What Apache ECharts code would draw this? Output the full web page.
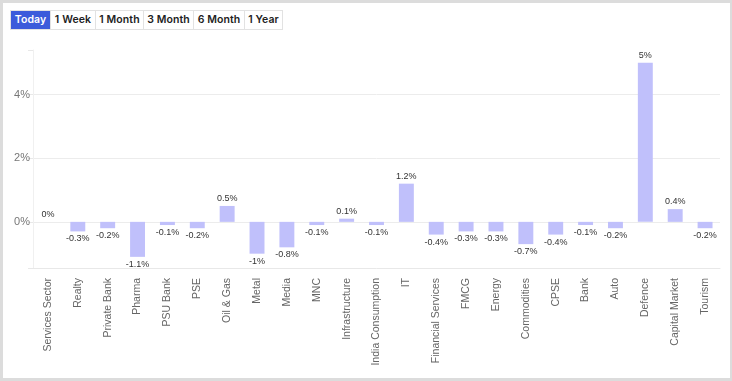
<!DOCTYPE html>
<html><head><meta charset="utf-8">
<script src="https://cdn.jsdelivr.net/npm/echarts@6/dist/echarts.min.js"></script>
<style>
html,body{margin:0;padding:0;background:#fff;}
#card{position:absolute;left:0;top:0;width:732px;height:381px;box-sizing:border-box;border:3px solid #dcdcdc;border-right-width:2px;background:#fff;}
#chart{position:absolute;left:0;top:0;width:732px;height:381px;}
#btns{position:absolute;left:10px;top:10px;height:20px;display:flex;border:1px solid #e2e2e2;box-sizing:border-box;z-index:2;background:#fff;}
#btns div{font-family:"Inter","Noto Sans",sans-serif;font-weight:600;font-size:10.5px;letter-spacing:0.1px;color:#222;line-height:18px;text-align:center;border-left:1px solid #e2e2e2;box-sizing:border-box;}
#btns div:first-child{border-left:none;background:#3b5bdb;color:#fff;}
</style></head>
<body>
<div id="card"></div>
<div id="chart"></div>
<div id="btns"></div>
<script>
const rangeButtons = ["Today","1 Week","1 Month","3 Month","6 Month","1 Year"];
const categories = ["Services Sector","Realty","Private Bank","Pharma","PSU Bank","PSE","Oil & Gas","Metal","Media","MNC","Infrastructure","India Consumption","IT","Financial Services","FMCG","Energy","Commodities","CPSE","Bank","Auto","Defence","Capital Market","Tourism"];
const changes = [0,-0.3,-0.2,-1.1,-0.1,-0.2,0.5,-1,-0.8,-0.1,0.1,-0.1,1.2,-0.4,-0.3,-0.3,-0.7,-0.4,-0.1,-0.2,5,0.4,-0.2];
const yTicks = [0,2,4];

const btnWidths = [39,45,48,50,51,38];
const bc = document.getElementById('btns');
rangeButtons.forEach((t,i)=>{const d=document.createElement('div');d.textContent=t;d.style.width=btnWidths[i]+'px';bc.appendChild(d);});

const chart = echarts.init(document.getElementById('chart'));
chart.setOption({
  animation:false,
  grid:{left:33,right:12,top:50,bottom:113,containLabel:false},
  xAxis:{type:'category',data:categories,
    axisLine:{onZero:false,lineStyle:{color:'#e8e8e8'}},
    axisTick:{alignWithLabel:true,length:6,lineStyle:{color:'#dcdcdc'}},
    axisLabel:{rotate:90,interval:0,margin:10,fontSize:10.5,color:'#666',fontFamily:'Arial'}},
  yAxis:{type:'value',min:-1.45,max:5.4,splitNumber:3,
    axisLine:{show:true,lineStyle:{color:'#f0f0f0'}},
    axisTick:{show:true,length:5,lineStyle:{color:'#e8e8e8'}},
    splitLine:{show:true,showMaxLine:false,showMinLine:false,lineStyle:{color:'#ececec'}},
    axisLabel:{margin:3,fontSize:11,color:'#777',fontFamily:'Arial',
      formatter:v=>yTicks.includes(v)?v+'%':''}},
  series:[{type:'bar',barWidth:'50%',
    data:changes.map(v=>({value:v,label:{position:v<0?'bottom':'top'}})),
    itemStyle:{color:'#c0c0fb'},
    label:{show:true,distance:3,fontSize:9,color:'#333',fontFamily:'Arial',formatter:p=>p.value+'%'}}]
});
</script>
</body></html>
